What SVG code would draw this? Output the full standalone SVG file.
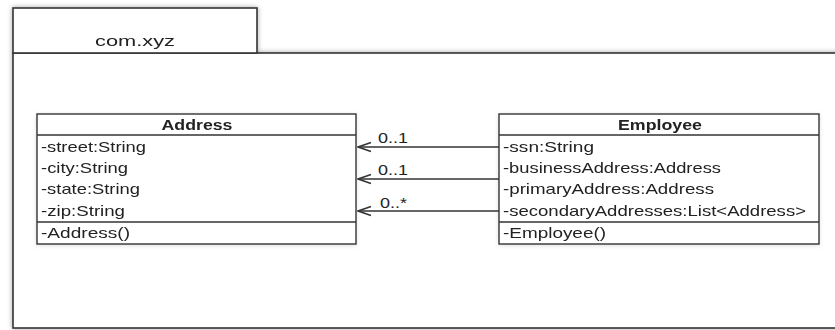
<svg xmlns="http://www.w3.org/2000/svg" width="835" height="330" viewBox="0 0 835 330">
<defs>
<style>
.frame{fill:#fff;stroke:#333;stroke-width:1.6}
.box{fill:#fff;stroke:#333;stroke-width:1.4}
.sep{stroke:#333;stroke-width:1.4}
text{font-family:"Liberation Sans",Arial,sans-serif;font-size:15px;fill:#222}
.hd{font-weight:bold;text-anchor:middle}
.conn{stroke:#333;stroke-width:1.3;fill:none}
</style>
<filter id="sh" x="-5%" y="-5%" width="110%" height="110%">
<feDropShadow dx="0" dy="0" stdDeviation="2.5" flood-color="#000" flood-opacity="0.35"/>
</filter>
<filter id="sh2" x="-5%" y="-10%" width="110%" height="120%">
<feDropShadow dx="0" dy="1" stdDeviation="2" flood-color="#000" flood-opacity="0.12"/>
</filter>
<marker id="open" viewBox="0 0 16 12" refX="15" refY="6" markerWidth="16" markerHeight="12" markerUnits="userSpaceOnUse" orient="auto">
<path d="M2,1.5 L15,6 L2,10.5" fill="none" stroke="#333" stroke-width="1.4"/>
</marker>
</defs>
<g id="package" filter="url(#sh)">
<rect class="frame" x="13" y="53" width="840" height="275"/>
<rect class="frame" x="13" y="8" width="244" height="45"/>
<text x="135" y="46" text-anchor="middle" textLength="80" lengthAdjust="spacingAndGlyphs" font-size="16">com.xyz</text>
</g>
<g id="Address" filter="url(#sh2)">
<rect class="box" x="37" y="114" width="319" height="130"/>
<line class="sep" x1="37" y1="135" x2="356" y2="135"/>
<line class="sep" x1="37" y1="222" x2="356" y2="222"/>
<text class="hd" x="197" y="130" textLength="71" lengthAdjust="spacingAndGlyphs">Address</text>
<text x="41" y="152" textLength="105" lengthAdjust="spacingAndGlyphs">-street:String</text>
<text x="41" y="173" textLength="87" lengthAdjust="spacingAndGlyphs">-city:String</text>
<text x="41" y="194" textLength="99" lengthAdjust="spacingAndGlyphs">-state:String</text>
<text x="41" y="216" textLength="84" lengthAdjust="spacingAndGlyphs">-zip:String</text>
<text x="41" y="238" textLength="89" lengthAdjust="spacingAndGlyphs">-Address()</text>
</g>
<g id="Employee" filter="url(#sh2)">
<rect class="box" x="499" y="114" width="320" height="130"/>
<line class="sep" x1="499" y1="135" x2="819" y2="135"/>
<line class="sep" x1="499" y1="222" x2="819" y2="222"/>
<text class="hd" x="660" y="130" textLength="84" lengthAdjust="spacingAndGlyphs">Employee</text>
<text x="503" y="152" textLength="91" lengthAdjust="spacingAndGlyphs">-ssn:String</text>
<text x="503" y="173" textLength="218" lengthAdjust="spacingAndGlyphs">-businessAddress:Address</text>
<text x="503" y="194" textLength="211" lengthAdjust="spacingAndGlyphs">-primaryAddress:Address</text>
<text x="503" y="216" textLength="303" lengthAdjust="spacingAndGlyphs">-secondaryAddresses:List&lt;Address&gt;</text>
<text x="503" y="238" textLength="103" lengthAdjust="spacingAndGlyphs">-Employee()</text>
</g>
<g id="connectors">
<line class="conn" x1="499" y1="147" x2="358" y2="147" marker-end="url(#open)"/>
<line class="conn" x1="499" y1="179" x2="358" y2="179" marker-end="url(#open)"/>
<line class="conn" x1="499" y1="211" x2="358" y2="211" marker-end="url(#open)"/>
<text x="378" y="143" textLength="30" lengthAdjust="spacingAndGlyphs">0..1</text>
<text x="378" y="175" textLength="30" lengthAdjust="spacingAndGlyphs">0..1</text>
<text x="380" y="208" textLength="27" lengthAdjust="spacingAndGlyphs">0..*</text>
</g>
</svg>
